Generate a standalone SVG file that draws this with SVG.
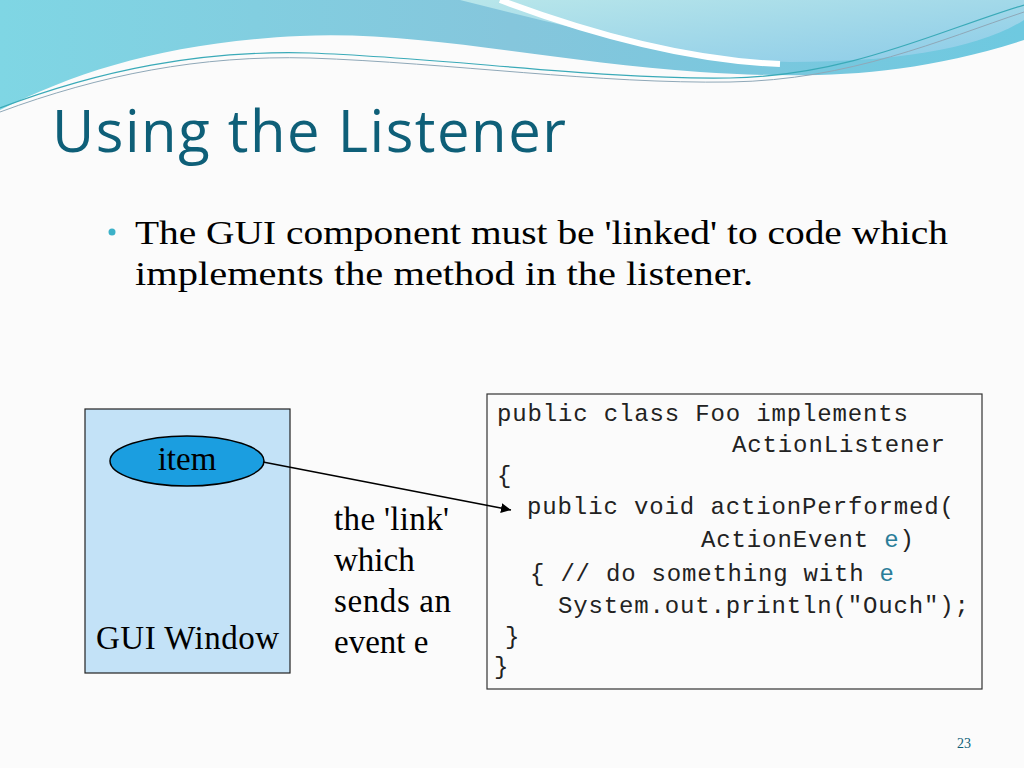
<svg xmlns="http://www.w3.org/2000/svg" width="1024" height="768" viewBox="0 0 1024 768">
<defs>
<linearGradient id="bg1" x1="0" y1="0" x2="1" y2="0"><stop offset="0" stop-color="#7fd6e4"/><stop offset="0.5" stop-color="#85c6dc"/><stop offset="1" stop-color="#6ec9e0"/></linearGradient>
<linearGradient id="bg2" x1="0" y1="0" x2="1" y2="1"><stop offset="0" stop-color="#b8e6ea"/><stop offset="1" stop-color="#8ccbe8"/></linearGradient>
<marker id="arr" viewBox="0 0 10 10" refX="10" refY="5" markerWidth="10" markerHeight="10" markerUnits="userSpaceOnUse" orient="auto"><path d="M0,0 L10,5 L0,10 z" fill="#000"/></marker>
<style>
.code{font-family:"Liberation Mono",monospace;font-size:24px;fill:#222}
.serif{font-family:"Liberation Serif",serif;font-size:33px;fill:#000}
.e{fill:#2a7d99}
</style>
</defs>
<rect width="1024" height="768" fill="#fbfbfb"/>
<g id="header">
<path d="M0,0 H1024 V40 C900,80 800,78 700,72 C550,62 420,30 300,36 C170,42 80,70 0,110 Z" fill="url(#bg1)"/>
<path d="M460,0 H1024 V20 C980,48 900,62 790,62 C700,60 580,30 460,0 Z" fill="url(#bg2)"/>
<path d="M500,0 C580,30 680,60 780,64" fill="none" stroke="#fff" stroke-width="6"/>
<path d="M0,108 C100,70 200,50 310,53 C450,58 600,80 730,78 C850,76 940,30 1024,5" fill="none" stroke="#3aaab8" stroke-width="1.2"/>
<path d="M0,112 C100,75 200,55 310,58 C450,63 600,84 730,82 C850,80 940,40 1024,12" fill="none" stroke="#8fa8b8" stroke-width="1"/>
</g>
<text x="52" y="152" font-family="Open Sans, sans-serif" font-size="58" fill="#0e5f78" textLength="514">Using the Listener</text>
<circle cx="112" cy="232" r="3.5" fill="#3cb1c8"/>
<text class="serif" x="135" y="244" font-size="37" textLength="813" lengthAdjust="spacingAndGlyphs">The GUI component must be 'linked' to code which</text>
<text class="serif" x="135" y="285" font-size="37" textLength="618" lengthAdjust="spacingAndGlyphs">implements the method in the listener.</text>
<g id="gui-window">
<rect x="85" y="409" width="205" height="264" fill="#c3e2f7" stroke="#222" stroke-width="1.2"/>
<text class="serif" x="96" y="649" textLength="183">GUI Window</text>
</g>
<g id="item">
<ellipse cx="187" cy="461" rx="77" ry="25" fill="#1b9ee0" stroke="#000" stroke-width="1.5"/>
<text class="serif" x="187" y="470" text-anchor="middle">item</text>
</g>
<g id="link-label">
<text class="serif" x="334" y="530" textLength="115">the 'link'</text>
<text class="serif" x="334" y="571">which</text>
<text class="serif" x="334" y="612" textLength="117">sends an</text>
<text class="serif" x="334" y="653">event e</text>
</g>
<g id="code">
<rect x="487" y="394" width="495" height="295" fill="#fbfbfb" stroke="#333" stroke-width="1.2"/>
<text class="code" x="497" y="421" textLength="411">public class Foo implements</text>
<text class="code" x="732" y="452" textLength="213">ActionListener</text>
<text class="code" x="497" y="483">{</text>
<text class="code" x="527" y="514" textLength="427">public void actionPerformed(</text>
<text class="code" x="701" y="547" textLength="213">ActionEvent <tspan class="e">e</tspan>)</text>
<text class="code" x="530" y="581" textLength="364">{ // do something with <tspan class="e">e</tspan></text>
<text class="code" x="558" y="613" textLength="411">System.out.println("Ouch");</text>
<text class="code" x="505" y="644">}</text>
<text class="code" x="494" y="674">}</text>
</g>
<g id="connectors">
<line x1="263" y1="462" x2="511" y2="510" stroke="#000" stroke-width="1.5" marker-end="url(#arr)"/>
</g>
<text x="964" y="748" font-family="Liberation Serif, serif" font-size="14" fill="#0e5f78" text-anchor="middle">23</text>
</svg>
